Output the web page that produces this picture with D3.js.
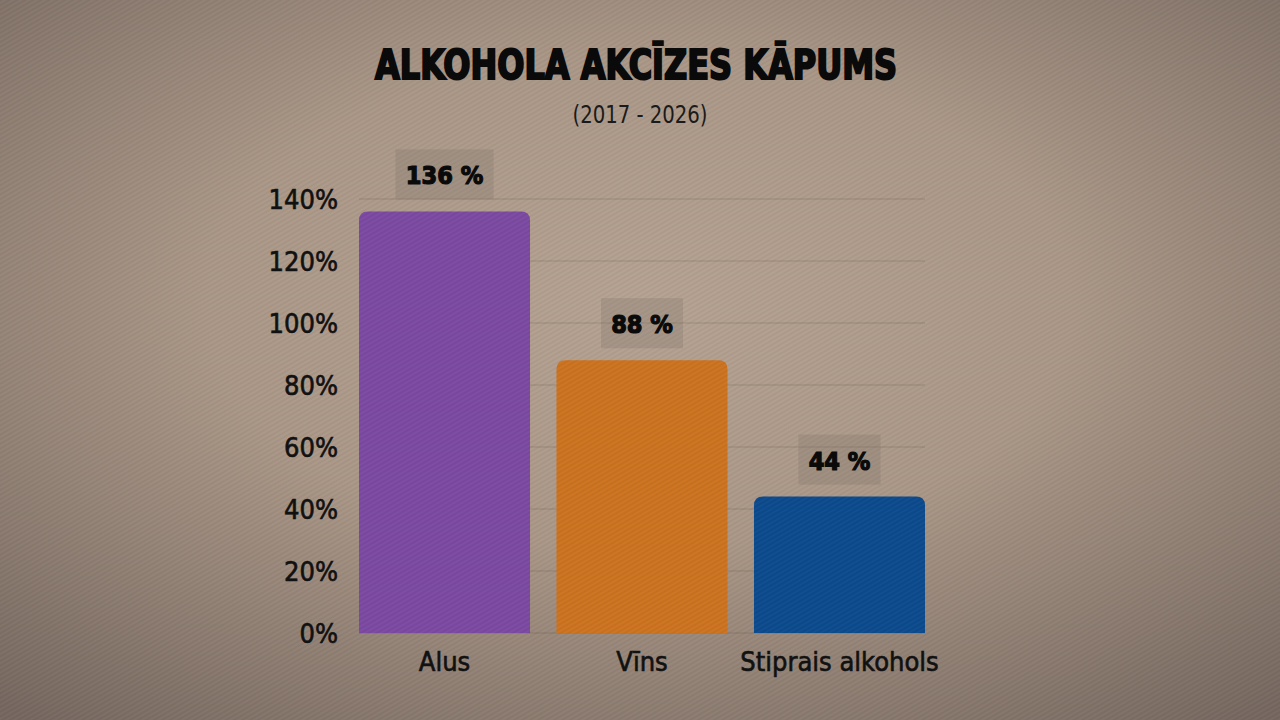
<!DOCTYPE html>
<html><head><meta charset="utf-8">
<script src="https://cdn.jsdelivr.net/npm/d3@7"></script>
<style>html,body{margin:0;padding:0;background:#8a7a6e;}svg{display:block;}</style>
</head><body>
<svg id="c" width="1280" height="720"></svg>
<script>
const categories = ["Alus", "Vīns", "Stiprais alkohols"];
const values = [136, 88, 44];
const valueLabels = ["136 %", "88 %", "44 %"];
const colors = ["#7c4aa2", "#cc7320", "#0c4b8e"];
const yTicks = [0, 20, 40, 60, 80, 100, 120, 140];
const title = "ALKOHOLA AKCĪZES KĀPUMS";
const subtitle = "(2017 - 2026)";

const svg = d3.select("#c");
const defs = svg.append("defs");
const rg = defs.append("radialGradient").attr("id","bg").attr("cx","50%").attr("cy","42%").attr("r","75%");
rg.append("stop").attr("offset","0%").attr("stop-color","#b5a292");
rg.append("stop").attr("offset","45%").attr("stop-color","#aa9787");
rg.append("stop").attr("offset","100%").attr("stop-color","#766860");
svg.append("rect").attr("width",1280).attr("height",720).attr("fill","url(#bg)");

// subtle texture
const pat = defs.append("pattern").attr("id","tex").attr("width",6).attr("height",4).attr("patternUnits","userSpaceOnUse").attr("patternTransform","rotate(-30)");
pat.append("rect").attr("width",6).attr("height",1.2).attr("fill","rgba(0,0,0,0.045)");
pat.append("rect").attr("y",2).attr("width",6).attr("height",1).attr("fill","rgba(255,255,255,0.03)");
svg.append("rect").attr("width",1280).attr("height",720).attr("fill","url(#tex)");

const x = d3.scaleBand().domain(categories).range([359, 925]).paddingInner(0.134).paddingOuter(0);
const y = d3.scaleLinear().domain([0, 140]).range([633, 199]);

// gridlines
svg.append("g").selectAll("line").data(yTicks).join("line")
  .attr("x1", 359).attr("x2", 925)
  .attr("y1", d => y(d)).attr("y2", d => y(d))
  .attr("stroke", "rgba(60,50,45,0.2)").attr("stroke-width", 1);

const labelFont = "'DejaVu Sans Condensed', 'DejaVu Sans', sans-serif";

// y axis labels
const yAxis = d3.axisLeft(y).tickValues(yTicks).tickFormat(d => d + "%").tickSize(0).tickPadding(0);
const ya = svg.append("g").attr("transform", "translate(338,0)").call(yAxis);
ya.select(".domain").remove();
ya.selectAll("text").attr("font-family", labelFont)
  .attr("font-size", 27).attr("fill", "#111").attr("stroke", "#111").attr("stroke-width", 0.6)
  .attr("dy", "0.36em");

// bars
const data = categories.map((c, i) => ({c, v: values[i], lab: valueLabels[i], col: colors[i]}));
function topRounded(x0, y0, w, h, r) {
  return `M${x0},${y0+h}V${y0+r}Q${x0},${y0} ${x0+r},${y0}H${x0+w-r}Q${x0+w},${y0} ${x0+w},${y0+r}V${y0+h}Z`;
}
svg.append("g").selectAll("path").data(data).join("path")
  .attr("d", d => topRounded(x(d.c), y(d.v), x.bandwidth(), y(0) - y(d.v), 9))
  .attr("fill", d => d.col);
svg.append("g").selectAll("path").data(data).join("path")
  .attr("d", d => topRounded(x(d.c), y(d.v), x.bandwidth(), y(0) - y(d.v), 9))
  .attr("fill", "url(#tex)");

// value label boxes
const lg = svg.append("g").selectAll("g").data(data).join("g")
  .attr("transform", d => `translate(${x(d.c) + x.bandwidth()/2},${y(d.v) - 12})`);
lg.append("rect")
  .attr("x", d => d.lab.length > 4 ? -49 : -41)
  .attr("width", d => d.lab.length > 4 ? 98 : 82)
  .attr("y", -50).attr("height", 50)
  .attr("fill", "rgba(120,110,105,0.25)");
lg.append("text").attr("text-anchor", "middle").attr("y", -15)
  .attr("font-family", labelFont)
  .attr("font-weight", "bold").attr("font-size", 25).attr("fill", "#0a0a0a")
  .attr("stroke", "#0a0a0a").attr("stroke-width", 1.2)
  .text(d => d.lab);

// category labels
const xa = svg.append("g").attr("transform", "translate(0,633)")
  .call(d3.axisBottom(x).tickSize(0).tickPadding(0));
xa.select(".domain").remove();
xa.selectAll("text").attr("font-family", labelFont)
  .attr("font-size", 27).attr("fill", "#111").attr("stroke", "#111").attr("stroke-width", 0.6)
  .attr("dy", 0).attr("y", 38);

// titles
svg.append("text").attr("x", 636).attr("y", 79).attr("text-anchor", "middle")
  .attr("font-family", labelFont)
  .attr("font-weight", "bold").attr("font-size", 40).attr("fill", "#0a0a0a")
  .attr("stroke", "#0a0a0a").attr("stroke-width", 2)
  .attr("textLength", 522).attr("lengthAdjust", "spacingAndGlyphs")
  .text(title);
svg.append("text").attr("x", 640).attr("y", 123).attr("text-anchor", "middle")
  .attr("font-family", labelFont)
  .attr("font-size", 24).attr("fill", "#1a1a1a")
  .attr("textLength", 135).attr("lengthAdjust", "spacingAndGlyphs")
  .text(subtitle);
</script>
</body></html>
